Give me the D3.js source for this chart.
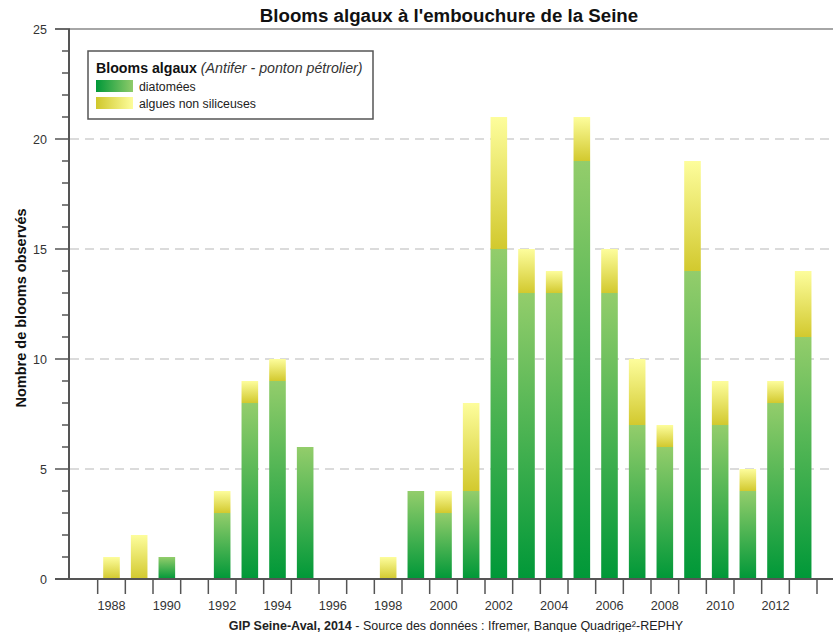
<!DOCTYPE html>
<html>
<head>
<meta charset="utf-8">
<script src="https://cdn.jsdelivr.net/npm/d3@7"></script>
<style>
  body { margin: 0; background: #fff; }
  text { font-family: "Liberation Sans", Arial, sans-serif; }
</style>
</head>
<body>
<div id="main"></div>
<script>
const years = d3.range(1987, 2014);
const diatomees = [0, 0, 0, 1, 0, 3, 8, 9, 6, 0, 0, 0, 4, 3, 4, 15, 13, 13, 19, 13, 7, 6, 14, 7, 4, 8, 11];
const nonSiliceuses = [0, 1, 2, 0, 0, 1, 1, 1, 0, 0, 0, 1, 0, 1, 4, 6, 2, 1, 2, 2, 3, 1, 5, 2, 1, 1, 3];
const yTicks = [0, 5, 10, 15, 20, 25];
const yGrid = [5, 10, 15, 20];

const ctx = {
    w: 833,
    h: 632,
    left: 70,
    right: 817,
    top: 29,
    bottom: 579,
    axisColor: "#555",
};

const svg = d3.select("#main").append("svg")
    .attr("width", ctx.w)
    .attr("height", ctx.h);

// gradients
const defs = svg.append("defs");
function addGradient(id, vertical, stops) {
    let g = defs.append("linearGradient").attr("id", id)
        .attr("x1", 0).attr("y1", 0)
        .attr("x2", vertical ? 0 : 1).attr("y2", vertical ? 1 : 0);
    stops.forEach(s => g.append("stop").attr("offset", s[0]).attr("stop-color", s[1]));
}
addGradient("gDiat", true, [[0, "#93cd6b"], [1, "#009838"]]);
addGradient("gNon", true, [[0, "#fdfd9c"], [1, "#d2c92e"]]);
addGradient("lDiat", false, [[0, "#009838"], [1, "#8fcb6a"]]);
addGradient("lNon", false, [[0, "#cfc72b"], [1, "#fdfd9c"]]);

const x = d3.scaleBand().domain(years).range([ctx.left, ctx.right]).padding(0);
const y = d3.scaleLinear().domain([0, 25]).range([ctx.bottom, ctx.top]);
const barW = x.bandwidth() * 0.6;

// grid lines
svg.append("g").selectAll("line")
    .data(yGrid).enter().append("line")
    .attr("x1", ctx.left).attr("x2", ctx.w)
    .attr("y1", d => y(d)).attr("y2", d => y(d))
    .attr("stroke", "#d0d0d0").attr("stroke-width", 1.5)
    .attr("stroke-dasharray", "9,6");

// top line
svg.append("line")
    .attr("x1", 55).attr("x2", ctx.w)
    .attr("y1", y(25)).attr("y2", y(25))
    .attr("stroke", "#888").attr("stroke-width", 1.5);

// bars
const data = years.map((yr, i) => ({year: yr, d: diatomees[i], n: nonSiliceuses[i]}));
const bars = svg.append("g");
bars.selectAll("rect.diat")
    .data(data.filter(d => d.d > 0)).enter().append("rect")
    .attr("class", "diat")
    .attr("x", d => x(d.year) + (x.bandwidth() - barW) / 2)
    .attr("width", barW)
    .attr("y", d => y(d.d))
    .attr("height", d => y(0) - y(d.d))
    .attr("fill", "url(#gDiat)");
bars.selectAll("rect.non")
    .data(data.filter(d => d.n > 0)).enter().append("rect")
    .attr("class", "non")
    .attr("x", d => x(d.year) + (x.bandwidth() - barW) / 2)
    .attr("width", barW)
    .attr("y", d => y(d.d + d.n))
    .attr("height", d => y(d.d) - y(d.d + d.n))
    .attr("fill", "url(#gNon)");

// y axis
const yAxis = svg.append("g");
yAxis.append("line")
    .attr("x1", ctx.left - 1).attr("x2", ctx.left - 1)
    .attr("y1", ctx.top).attr("y2", ctx.bottom)
    .attr("stroke", ctx.axisColor).attr("stroke-width", 2);
yAxis.selectAll("line.minor")
    .data(d3.range(0, 26).filter(v => v % 5 !== 0)).enter().append("line")
    .attr("x1", 62).attr("x2", ctx.left)
    .attr("y1", d => y(d)).attr("y2", d => y(d))
    .attr("stroke", ctx.axisColor).attr("stroke-width", 1.5);
yAxis.selectAll("line.major")
    .data(yTicks).enter().append("line")
    .attr("x1", 55).attr("x2", ctx.left)
    .attr("y1", d => y(d)).attr("y2", d => y(d))
    .attr("stroke", ctx.axisColor).attr("stroke-width", 1.5);
yAxis.selectAll("text")
    .data(yTicks).enter().append("text")
    .attr("x", 47).attr("y", d => y(d) + 4.5)
    .attr("text-anchor", "end")
    .attr("font-size", 12.5).attr("fill", "#333")
    .text(d => d);

// x axis
const xAxis = svg.append("g");
xAxis.append("line")
    .attr("x1", 55).attr("x2", ctx.w)
    .attr("y1", ctx.bottom).attr("y2", ctx.bottom)
    .attr("stroke", ctx.axisColor).attr("stroke-width", 2);
xAxis.selectAll("line.tick")
    .data(years.slice(1).concat([2014])).enter().append("line")
    .attr("x1", d => d === 2014 ? ctx.right : x(d))
    .attr("x2", d => d === 2014 ? ctx.right : x(d))
    .attr("y1", ctx.bottom).attr("y2", ctx.bottom + 15)
    .attr("stroke", ctx.axisColor).attr("stroke-width", 1.5);
xAxis.selectAll("text")
    .data(years.filter(v => v % 2 === 0)).enter().append("text")
    .attr("x", d => x(d) + x.bandwidth() / 2)
    .attr("y", ctx.bottom + 31)
    .attr("text-anchor", "middle")
    .attr("font-size", 12.7).attr("fill", "#333")
    .text(d => d);

// titles
svg.append("text")
    .attr("x", 449).attr("y", 22)
    .attr("text-anchor", "middle")
    .attr("font-size", 18.7).attr("font-weight", "bold").attr("fill", "#111")
    .text("Blooms algaux à l'embouchure de la Seine");

svg.append("text")
    .attr("transform", "translate(26,308) rotate(-90)")
    .attr("text-anchor", "middle")
    .attr("font-size", 14.5).attr("font-weight", "bold").attr("fill", "#111")
    .text("Nombre de blooms observés");

const foot = svg.append("text")
    .attr("x", 456).attr("y", 630)
    .attr("text-anchor", "middle")
    .attr("font-size", 12.5).attr("fill", "#222");
foot.append("tspan").attr("font-weight", "bold").text("GIP Seine-Aval, 2014");
foot.append("tspan").text(" - Source des données : Ifremer, Banque Quadrige²-REPHY");

// legend
const lg = svg.append("g");
lg.append("rect")
    .attr("x", 88).attr("y", 51).attr("width", 285).attr("height", 68)
    .attr("fill", "#fff").attr("stroke", "#555").attr("stroke-width", 1.5);
const lt = lg.append("text").attr("x", 96).attr("y", 73).attr("font-size", 14.2).attr("fill", "#111");
lt.append("tspan").attr("font-weight", "bold").text("Blooms algaux");
lt.append("tspan").attr("font-style", "italic").attr("fill", "#333").text(" (Antifer - ponton pétrolier)");
const legendItems = [["lDiat", "diatomées"], ["lNon", "algues non siliceuses"]];
legendItems.forEach((it, i) => {
    lg.append("rect")
        .attr("x", 96).attr("y", 80 + i * 17).attr("width", 37).attr("height", 12)
        .attr("fill", "url(#" + it[0] + ")");
    lg.append("text")
        .attr("x", 139).attr("y", 90.5 + i * 17)
        .attr("font-size", 12.3).attr("fill", "#222")
        .text(it[1]);
});
</script>
</body>
</html>
